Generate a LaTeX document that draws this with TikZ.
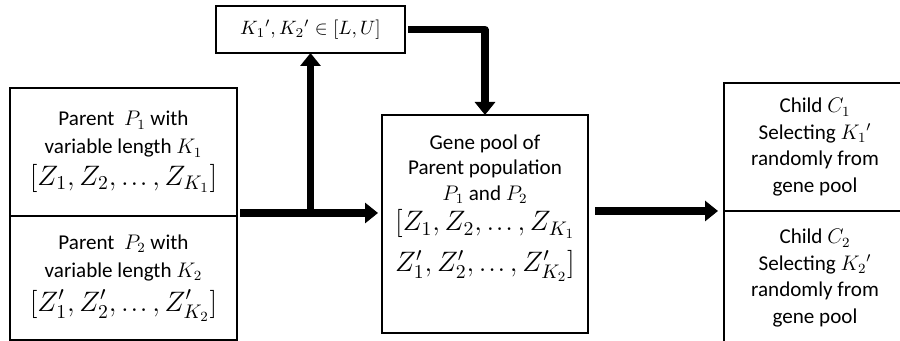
\documentclass[tikz,border=0pt]{standalone}
\usepackage{fix-cm}
\usepackage{fontspec}
\setmainfont{Carlito}
\usetikzlibrary{arrows.meta}
\newcommand{\genesize}{\fontsize{16}{19}\selectfont}
\newcommand{\zdots}{\mathinner{.\kern1pt.\kern1pt.}}

\begin{document}
\begin{tikzpicture}[inner sep=0pt,outer sep=0pt,line width=0.85pt,
font=\fontsize{12}{15}\selectfont,
genebox/.style={draw,rectangle,align=center,line width=0.85pt},
flow/.style={line width=4pt,line join=round,-{Triangle[length=0.26cm,width=0.4cm]}}]
\useasboundingbox (0,0) rectangle (18,6.82);
% parents
\draw (2.47,3.78) node[genebox,minimum width=4.54cm,minimum height=2.56cm,
  font=\fontsize{12}{16}\selectfont] (par1)
  {Parent \ $P_1$ with\\ variable length $K_1$\\[2pt] \genesize $[Z_1,Z_2,\zdots,Z_{K_1}]$};
\draw (2.47,1.26) node[genebox,minimum width=4.54cm,minimum height=2.48cm,
  font=\fontsize{12}{16}\selectfont] (par2)
  {Parent \ $P_2$ with\\ variable length $K_2$\\[3pt] \genesize $[Z'_1,Z'_2,\zdots,Z'_{K_2}]$};
% bounds of the child lengths
\draw (6.21,6.23) node[genebox,minimum width=3.78cm,minimum height=0.94cm,
  font=\fontsize{11}{13}\selectfont] (bounds)
  {$K_1{}',K_2{}' \in [L,U]$};
% gene pool
\draw (9.70,2.34) node[genebox,minimum width=4.12cm,minimum height=4.36cm] (pool) {};
\draw (9.70,2.66) node[align=center,font=\fontsize{12}{14.5}\selectfont] (pooltext)
  {Gene pool of\\ Parent population\\ $P_1$ and $P_2$\\[3pt]
   \genesize $[Z_1,Z_2,\zdots,Z_{K_1}$\\[6pt] \genesize $Z'_1,Z'_2,\zdots,Z'_{K_2}]$};
% children
\draw (16.30,3.88) node[genebox,minimum width=3.64cm,minimum height=2.56cm] (child1)
  {Child $C_1$\\ Selecting $K_1{}'$\\ randomly from\\ gene pool};
\draw (16.30,1.26) node[genebox,minimum width=3.64cm,minimum height=2.68cm] (child2)
  {Child $C_2$\\ Selecting $K_2{}'$\\ randomly from\\ gene pool};
% arrows
\coordinate (split) at (4.80,2.56);
\draw[flow,shorten >=0.08cm] (split) -- (split -| pool.west);
\draw[flow] (bounds.south |- split) -- (bounds.south);
\draw[flow] ([xshift=0.06cm]bounds.east) -| (pool.north);
\draw[flow,shorten >=0.12cm] ([xshift=0.14cm]pool.east |- child1.south west) -- (child1.south west);
\end{tikzpicture}
\end{document}
